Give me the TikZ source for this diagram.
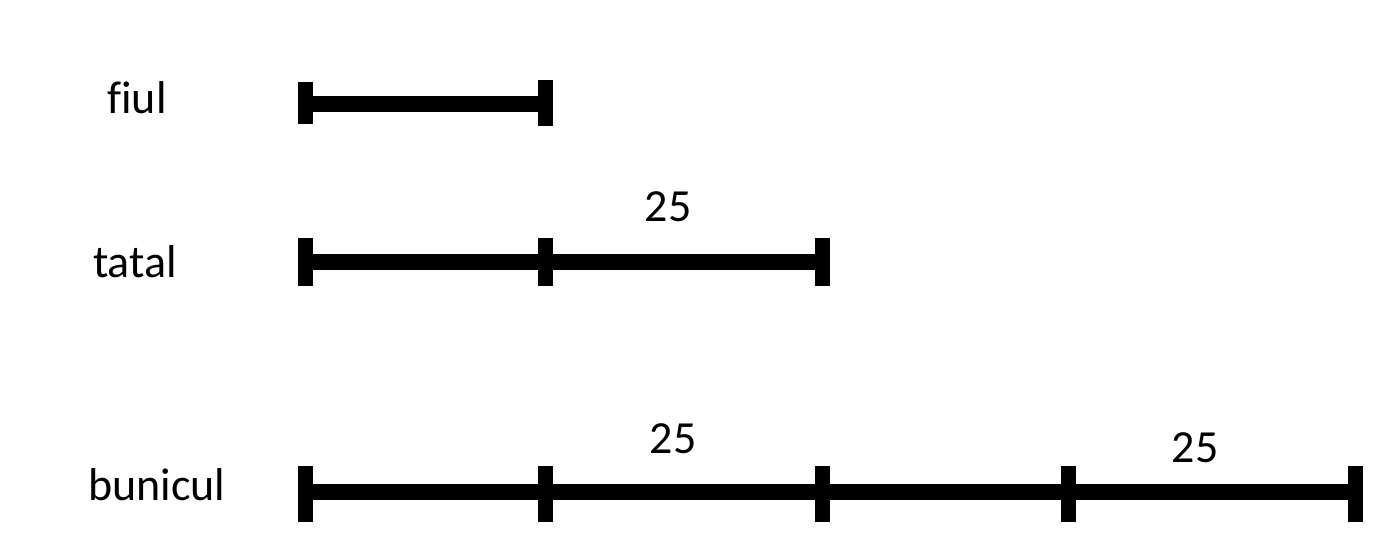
\documentclass[tikz,border=0pt]{standalone}
\usepackage{fontspec}
\setmainfont{Carlito}[Ligatures=NoCommon]
\begin{document}
\begin{tikzpicture}[x=0.5pt,y=-0.5pt,
  seg/.style={line width=8pt},
  tickmark/.style={line width=7.5pt},
  lbl/.style={font=\fontsize{23}{27}\selectfont, anchor=base, inner sep=0pt}]
\useasboundingbox (0,0) rectangle (1400,556);
% fiul
\coordinate (f0) at (305,104);
\coordinate (f1) at (545,104);
\draw[seg] (f0) -- (f1);
\draw[tickmark] ([yshift=11pt]f0) -- ([yshift=-10pt]f0);
\draw[tickmark] ([yshift=12pt]f1) -- ([yshift=-11pt]f1);
\node[lbl] (lf) at (137,113) {f\kern0pt iul};
% tatal
\coordinate (t0) at (305,262);
\coordinate (t1) at (545,262);
\coordinate (t2) at (822,262);
\draw[seg] (t0) -- (t2);
\foreach \c in {t0,t1,t2} \draw[tickmark] ([yshift=12pt]\c) -- ([yshift=-12pt]\c);
\node[lbl] (lt) at (135,277) {tatal};
\node[lbl] (n1) at (668,221) {25};
% bunicul
\coordinate (b0) at (305,492);
\coordinate (b1) at (545,492);
\coordinate (b2) at (822,492);
\coordinate (b3) at (1068,492);
\coordinate (b4) at (1355,492);
\draw[seg] (b0) -- (b4);
\foreach \c in {b0,b1,b2,b3,b4} \draw[tickmark] ([yshift=13pt]\c) -- ([yshift=-15pt]\c);
\node[lbl] (lb) at (157,500) {bunicul};
\node[lbl] (n2) at (673,453) {25};
\node[lbl] (n3) at (1195,462) {25};
\end{tikzpicture}
\end{document}
